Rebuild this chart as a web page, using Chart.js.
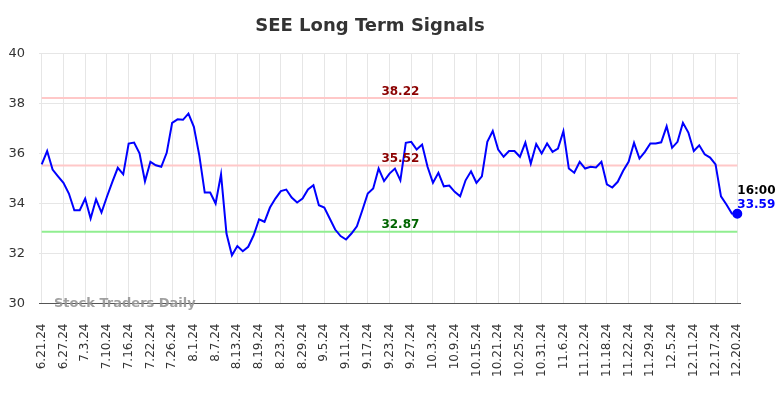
<!DOCTYPE html>
<html>
<head>
<meta charset="utf-8">
<script src="https://cdn.jsdelivr.net/npm/chart.js@4.4.1/dist/chart.umd.min.js"></script>
<style>
  html, body { margin: 0; padding: 0; background: #ffffff; }
  #wrap { width: 784px; height: 398px; }
</style>
</head>
<body>
<div id="wrap"><canvas id="c" width="784" height="398"></canvas></div>
<script>
// ---- data ----
const categories = [
  "6.21.24","6.24.24","6.25.24","6.26.24","6.27.24","6.28.24","7.1.24","7.2.24","7.3.24",
  "7.5.24","7.8.24","7.9.24","7.10.24","7.11.24","7.12.24","7.15.24","7.16.24",
  "7.17.24","7.18.24","7.19.24","7.22.24","7.23.24","7.24.24","7.25.24","7.26.24",
  "7.29.24","7.30.24","7.31.24","8.1.24","8.2.24","8.5.24","8.6.24","8.7.24",
  "8.8.24","8.9.24","8.12.24","8.13.24","8.14.24","8.15.24","8.16.24","8.19.24",
  "8.20.24","8.21.24","8.22.24","8.23.24","8.26.24","8.27.24","8.28.24","8.29.24",
  "8.30.24","9.3.24","9.4.24","9.5.24","9.6.24","9.9.24","9.10.24","9.11.24",
  "9.12.24","9.13.24","9.16.24","9.17.24","9.18.24","9.19.24","9.20.24","9.23.24",
  "9.24.24","9.25.24","9.26.24","9.27.24","9.30.24","10.1.24","10.2.24","10.3.24",
  "10.4.24","10.7.24","10.8.24","10.9.24","10.10.24","10.11.24","10.14.24","10.15.24",
  "10.16.24","10.17.24","10.18.24","10.21.24","10.22.24","10.23.24","10.24.24","10.25.24",
  "10.28.24","10.29.24","10.30.24","10.31.24","11.1.24","11.4.24","11.5.24","11.6.24",
  "11.7.24","11.8.24","11.11.24","11.12.24","11.13.24","11.14.24","11.15.24","11.18.24",
  "11.19.24","11.20.24","11.21.24","11.22.24","11.25.24","11.26.24","11.27.24","11.29.24",
  "12.2.24","12.3.24","12.4.24","12.5.24","12.6.24","12.9.24","12.10.24","12.11.24",
  "12.12.24","12.13.24","12.16.24","12.17.24","12.18.24","12.19.24","12.20.24","12.20.24"
];
const prices = [
  35.57,36.10,35.36,35.09,34.83,34.40,33.73,33.73,34.20,
  33.40,34.17,33.64,34.27,34.87,35.43,35.17,36.40,
  36.44,36.01,34.89,35.67,35.53,35.47,36.03,37.23,
  37.37,37.35,37.60,37.07,35.93,34.44,34.44,34.00,
  35.17,32.80,31.93,32.30,32.09,32.27,32.73,33.37,
  33.27,33.84,34.20,34.50,34.56,34.24,34.04,34.20,
  34.56,34.73,33.93,33.84,33.40,32.96,32.70,32.56,
  32.80,33.09,33.73,34.40,34.60,35.40,34.90,35.20,
  35.40,34.93,36.43,36.47,36.16,36.36,35.47,34.83,
  35.23,34.69,34.72,34.47,34.29,34.93,35.29,34.83,
  35.09,36.47,36.90,36.16,35.87,36.10,36.10,35.87,
  36.44,35.60,36.38,36.00,36.40,36.07,36.20,36.89,
  35.40,35.23,35.67,35.40,35.47,35.44,35.67,34.77,
  34.64,34.87,35.31,35.67,36.43,35.80,36.07,36.40,
  36.40,36.45,37.09,36.23,36.47,37.23,36.84,36.10,
  36.33,35.97,35.84,35.57,34.29,33.96,33.60,33.59
];
const upperLevel = 38.22;
const middleLevel = 35.52;
const lowerLevel = 32.87;
const lastTime = "16:00";
const yTicks = [30, 32, 34, 36, 38, 40];
const tickEvery = 4;
const titleText = "SEE Long Term Signals";
const watermark = "Stock Traders Daily";

// ---- chart ----
Chart.defaults.font.family = "'DejaVu Sans', sans-serif";
const FONT = "'DejaVu Sans', sans-serif";
const lastIdx = prices.length - 1;

const levelLabels = {
  id: 'levelLabels',
  afterDatasetsDraw(chart) {
    const ctx = chart.ctx;
    const xs = chart.scales.x, ys = chart.scales.y;
    const area = chart.chartArea;
    ctx.save();
    ctx.font = "bold 12px " + FONT;
    ctx.textAlign = 'center';
    ctx.textBaseline = 'alphabetic';
    const cx = xs.getPixelForValue(66);
    [[upperLevel, '#8b0000'], [middleLevel, '#8b0000'], [lowerLevel, '#006400']].forEach(([v, c]) => {
      ctx.fillStyle = c;
      ctx.fillText(v.toFixed(2), cx, ys.getPixelForValue(v) - 3.5);
    });
    // last point labels
    const px = xs.getPixelForValue(lastIdx);
    const py = ys.getPixelForValue(prices[lastIdx]);
    ctx.textAlign = 'left';
    ctx.fillStyle = '#000000';
    ctx.fillText(lastTime, px, py - 20);
    ctx.fillStyle = '#0000ff';
    ctx.fillText(prices[lastIdx].toFixed(2), px, py - 6);
    // watermark
    ctx.font = "bold 13px " + FONT;
    ctx.fillStyle = 'rgba(150,150,150,0.9)';
    ctx.fillText(watermark, area.left + 15, area.bottom + 3);
    ctx.restore();
  }
};

const flat = v => prices.map(() => v);

new Chart(document.getElementById('c'), {
  type: 'line',
  data: {
    labels: categories,
    datasets: [
      { data: flat(upperLevel), borderColor: 'rgba(255,200,200,1)', borderWidth: 2, pointRadius: 0, order: 3 },
      { data: flat(middleLevel), borderColor: 'rgba(255,200,200,1)', borderWidth: 2, pointRadius: 0, order: 3 },
      { data: flat(lowerLevel), borderColor: 'rgba(144,238,144,1)', borderWidth: 2, pointRadius: 0, order: 3 },
      {
        data: prices, borderColor: '#0000ff', backgroundColor: '#0000ff', borderWidth: 2,
        tension: 0, order: 1,
        pointRadius: ctx => ctx.dataIndex === lastIdx ? 4 : 0,
        pointHoverRadius: 0
      }
    ]
  },
  options: {
    responsive: false,
    animation: false,
    devicePixelRatio: 1,
    layout: { padding: { left: 0, right: 44, top: 0, bottom: 0 } },
    plugins: {
      legend: { display: false },
      tooltip: { enabled: false },
      title: {
        display: true, text: titleText, color: '#333333',
        font: { family: FONT, size: 18, weight: 'bold' },
        padding: { top: 16, bottom: 16 }
      }
    },
    scales: {
      x: {
        type: 'category',
        offset: true,
        grid: { color: '#e6e6e6', drawTicks: false, offset: false },
        border: { display: true, color: '#555555', width: 1 },
        afterBuildTicks: s => { s.ticks = s.ticks.filter((t, i) => i % tickEvery === 0); },
        afterFit: s => { s.height = 94.5; },
        ticks: {
          autoSkip: false, minRotation: 90, maxRotation: 90, padding: 20,
          color: '#333333', font: { family: FONT, size: 12 },
          callback: function(v) { return categories[v]; }
        }
      },
      y: {
        min: 30, max: 40,
        afterBuildTicks: s => { s.ticks = yTicks.map(v => ({ value: v })); },
        afterFit: s => { s.width = 39; },
        grid: { color: '#e6e6e6', drawTicks: false },
        border: { display: false },
        ticks: { padding: 14, color: '#333333', font: { family: FONT, size: 13 } }
      }
    }
  },
  plugins: [levelLabels]
});
</script>
</body>
</html>
